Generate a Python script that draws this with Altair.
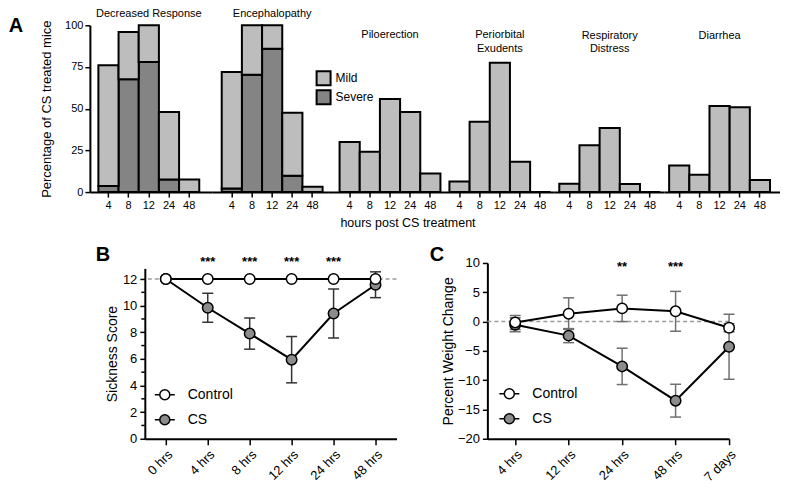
import altair as alt
import pandas as pd

FONT = "Liberation Sans"

# ---------------- Panel A data ----------------
hours = ["4", "8", "12", "24", "48"]
panel_titles = ["Decreased Response", "Encephalopathy", "Piloerection",
                "Periorbital\nExudents", "Respiratory\nDistress", "Diarrhea"]
dr_total = [76, 96, 100, 48, 7.6]
dr_severe = [3.6, 67.6, 78, 7.6, 0]
enc_total = [72, 100, 100, 47.6, 3.2]
enc_severe = [2.2, 70.4, 86, 9.8, 0]
pilo_total = [30, 24.2, 55.8, 48, 11.2]
peri_total = [6.4, 42.2, 77.6, 18.2, 0]
resp_total = [5, 28, 38.4, 4.8, 0]
diar_total = [16, 10.4, 51.6, 50.8, 7.2]
levels = ["Mild", "Severe"]
level_colors = ["#bdbdbd", "#848484"]

# ---------------- Panel B data ----------------
b_times = ["0 hrs", "4 hrs", "8 hrs", "12 hrs", "24 hrs", "48 hrs"]
b_control = [12, 12, 12, 12, 12, 12]
b_control_err = [0, 0, 0, 0, 0, 0]
b_cs = [12, 9.84, 7.9, 5.94, 9.41, 11.57]
b_cs_err = [0, 1.09, 1.17, 1.74, 1.84, 0.97]
b_sig_times = ["4 hrs", "8 hrs", "12 hrs", "24 hrs"]
b_sig_labels = ["***", "***", "***", "***"]
b_minor = [1, 3, 5, 7, 9, 11]

# ---------------- Panel C data ----------------
c_times = ["4 hrs", "12 hrs", "24 hrs", "48 hrs", "7 days"]
c_control = [-0.15, 1.35, 2.25, 1.75, -1.05]
c_control_err = [1.2, 2.7, 2.25, 3.4, 0.7]
c_cs = [-0.55, -2.4, -7.65, -13.5, -4.3]
c_cs_err = [1.2, 1.2, 3.1, 2.8, 5.55]
c_sig_times = ["24 hrs", "48 hrs"]
c_sig_labels = ["**", "***"]

groups = ["Control", "CS"]
group_fills = ["white", "#8c8c8c"]

LEG_SYMBOL = "M-2,0L-1,0M1,0L2,0M-1,0A1,1,0,1,0,1,0A1,1,0,1,0,-1,0Z"


def letter_layer(txt, lx, ly):
    return alt.Chart(pd.DataFrame({"t": [txt]})).mark_text(
        font=FONT, fontSize=20, fontWeight="bold", align="center", baseline="middle",
        color="black"
    ).encode(text="t:N", x=alt.value(lx), y=alt.value(ly))


def spacer(W, H=10):
    return alt.Chart(pd.DataFrame({"t": [""]})).mark_text(opacity=0).encode(
        text="t:N", x=alt.value(0), y=alt.value(0)
    ).properties(width=W, height=H)


def bar_panel(title_text, title_y, total, severe, W, L, R,
              first=False, legend=False, xtitle=False):
    n = len(hours)
    step = (W - L - R) / n
    po = (L + R) / (2 * step)
    al = L / (L + R)
    sev = severe if severe is not None else [0] * n
    df = pd.DataFrame({
        "hour": hours * 2,
        "level": ["Severe"] * n + ["Mild"] * n,
        "value": list(sev) + [t - s for t, s in zip(total, sev)],
        "ord": [0] * n + [1] * n,
    })
    xaxis_kw = dict(labelAngle=0, labelFontSize=11, tickSize=5, labelPadding=2,
                    domainWidth=2, tickWidth=1.5)
    if xtitle:
        xaxis_kw.update(title="hours post CS treatment", titleX=80, titleFontSize=12.5,
                        titlePadding=6)
    else:
        xaxis_kw.update(title=None)
    xscale = alt.Scale(type="band", paddingInner=0, paddingOuter=po, align=al)
    x = alt.X("hour:N", sort=hours, scale=xscale, axis=alt.Axis(**xaxis_kw))
    if first:
        yaxis = alt.Axis(values=[0, 25, 50, 75, 100], title="Percentage of CS treated mice",
                         titleFontSize=13, labelFontSize=11, tickSize=5, labelPadding=2,
                         titlePadding=11, domainWidth=2, tickWidth=1.5)
    else:
        yaxis = None
    y = alt.Y("value:Q", stack="zero", scale=alt.Scale(domain=[0, 100], nice=False), axis=yaxis)
    if legend:
        leg = alt.Legend(title=None, orient="none", legendX=104, legendY=45,
                         symbolType="square", symbolSize=196, symbolStrokeColor="black",
                         symbolStrokeWidth=2, labelFont=FONT, labelFontSize=12,
                         labelColor="black", rowPadding=-3, labelOffset=4, symbolOpacity=1)
    else:
        leg = None
    color = alt.Color("level:N", scale=alt.Scale(domain=levels, range=level_colors), legend=leg)
    bars = alt.Chart(df).mark_bar(stroke="black", strokeWidth=2, opacity=1).encode(
        x=x, y=y, color=color, order=alt.Order("ord:Q")
    )
    ttl = alt.Chart(pd.DataFrame({"t": [title_text]})).mark_text(
        font=FONT, fontSize=11, lineBreak="\n", lineHeight=13.5, align="center",
        baseline="middle", color="black"
    ).encode(text="t:N", x=alt.datum("12"), y=alt.value(title_y))
    layers = [bars, ttl]
    if first:
        layers.append(letter_layer("A", -74, 1))
    return alt.layer(*layers).properties(width=W, height=167)


def line_panel(times, ctrl, ctrl_err, cs, cs_err, sig_times, sig_labels, sig_y,
               ydomain, yvalues, ytitle, W, H, yrange, xscale, ref_y, err_color,
               letter, letter_xy, legend_xy, minor=None, title_pad=5):
    n = len(times)
    df = pd.DataFrame({
        "time": times * 2,
        "group": ["CS"] * n + ["Control"] * n,
        "mean": cs + ctrl,
        "err": cs_err + ctrl_err,
    })
    df["lo"] = df["mean"] - df["err"]
    df["hi"] = df["mean"] + df["err"]

    yscale = alt.Scale(domain=ydomain, nice=False, zero=False, range=yrange)
    yaxis = alt.Axis(values=yvalues, title=ytitle, titleFontSize=14, labelFontSize=13,
                     tickSize=5, labelPadding=3, titlePadding=title_pad,
                     domainWidth=2, tickWidth=1.5)

    def Y(field):
        return alt.Y(f"{field}:Q", scale=yscale, axis=yaxis)

    x = alt.X("time:N", sort=times, scale=xscale,
              axis=alt.Axis(title=None, labelAngle=-45, labelFontSize=13, tickSize=6,
                            labelPadding=3, domainWidth=2, tickWidth=1.5))

    base = alt.Chart(df)
    ref = alt.Chart(pd.DataFrame({"mean": [ref_y]})).mark_rule(
        color="#9a9a9a", strokeDash=[4, 3], strokeWidth=1.5).encode(y=Y("mean"))
    err = base.mark_rule(color=err_color, strokeWidth=1.5).encode(x=x, y=Y("lo"), y2="hi:Q")
    cap_lo = base.mark_tick(color=err_color, size=11, thickness=1.5, opacity=1).encode(x=x, y=Y("lo"))
    cap_hi = base.mark_tick(color=err_color, size=11, thickness=1.5, opacity=1).encode(x=x, y=Y("hi"))
    line = base.mark_line(color="black", strokeWidth=2).encode(x=x, y=Y("mean"), detail="group:N")
    pts = base.mark_circle(size=110, stroke="black", strokeWidth=1.5, opacity=1).encode(
        x=x, y=Y("mean"),
        fill=alt.Fill("group:N", scale=alt.Scale(domain=groups, range=group_fills),
                      legend=alt.Legend(title=None, orient="none", legendX=legend_xy[0],
                                        legendY=legend_xy[1], symbolType=LEG_SYMBOL,
                                        symbolSize=100, symbolStrokeColor="black",
                                        symbolStrokeWidth=1.5, labelFont=FONT,
                                        labelFontSize=14, labelColor="black",
                                        labelOffset=16, rowPadding=9, symbolOpacity=1)),
    )
    sig = alt.Chart(pd.DataFrame({"time": sig_times, "mean": [sig_y] * len(sig_times),
                                  "lab": sig_labels})).mark_text(
        font=FONT, fontSize=13, fontWeight="bold", color="black", baseline="middle"
    ).encode(x=x, y=Y("mean"), text="lab:N")
    layers = [ref, err, cap_lo, cap_hi, line, pts, sig]
    if minor is not None:
        mt = alt.Chart(pd.DataFrame({"mean": minor})).mark_rule(
            color="black", strokeWidth=1.5).encode(y=Y("mean"), x=alt.value(0), x2=alt.value(-3.5))
        layers.append(mt)
    layers.append(letter_layer(letter, letter_xy[0], letter_xy[1]))
    return alt.layer(*layers).properties(width=W, height=H)


# ---------------- build panels ----------------
pA = [
    bar_panel(panel_titles[0], -11, dr_total, dr_severe, 122, 8.5, 12.5, first=True),
    bar_panel(panel_titles[1], -11, enc_total, enc_severe, 116, 10, 5, legend=True),
    bar_panel(panel_titles[2], 10, pilo_total, None, 117, 12, 4, xtitle=True),
    bar_panel(panel_titles[3], 10, peri_total, None, 110, 5, 4),
    bar_panel(panel_titles[4], 10.5, resp_total, None, 110, 5, 4),
    bar_panel(panel_titles[5], 10.3, diar_total, None, 116, 5, 10),
]
top = alt.hconcat(*pA, spacing=0, bounds="flush").resolve_scale(color="independent")

pB = line_panel(b_times, b_control, b_control_err, b_cs, b_cs_err, b_sig_times, b_sig_labels,
                13.28, [0, 12.8], [0, 2, 4, 6, 8, 10, 12], "Sickness Score", 252, 176, [176, 5.4],
                alt.Scale(type="point", padding=0.5), 12, "#333333",
                "B", (-42, -8), (13, 125), minor=b_minor, title_pad=3)
pC = line_panel(c_times, c_control, c_control_err, c_cs, c_cs_err, c_sig_times, c_sig_labels,
                9.35, [-20, 10], [-20, -15, -10, -5, 0, 5, 10], "Percent Weight Change", 242, 176,
                [176, 0], alt.Scale(type="point", padding=0.26, align=1), 0, "#707070",
                "C", (-50.5, -8), (15, 124), title_pad=2)
bottom = alt.hconcat(spacer(55), pB, spacer(91), pC, spacing=0, bounds="flush").resolve_scale(
    fill="independent")

chart = alt.vconcat(top, bottom, spacing=16).resolve_scale(
    color="independent", fill="independent"
).properties(padding=0).configure_view(
    strokeWidth=0
).configure_axis(
    domainColor="black", tickColor="black", labelColor="black", titleColor="black",
    labelFont=FONT, titleFont=FONT, titleFontWeight="normal", grid=False
).configure_title(font=FONT, fontWeight="normal", color="black")

chart.save("out.html", embed_options={"renderer": "svg", "actions": False})
